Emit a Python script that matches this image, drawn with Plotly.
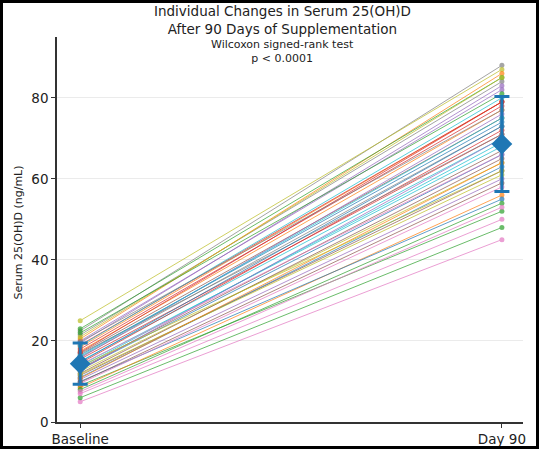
import plotly.graph_objects as go

timepoints = ["Baseline", "Day 90"]

baseline = [13.0, 18.5, 9.0, 15.5, 20.0, 11.5, 5.0, 22.5, 25.0, 14.0,
            16.5, 8.5, 6.0, 19.0, 10.5, 17.0, 7.0, 21.5, 12.5, 15.0,
            10.0, 20.5, 23.0, 14.5, 19.5, 12.0, 9.5, 16.0, 21.0, 13.5,
            11.0, 17.5, 8.0, 18.0, 15.8, 13.2, 7.5, 16.8, 11.8, 18.8,
            14.8, 10.8, 22.0, 17.2, 12.8, 9.8, 14.2, 19.8, 13.8, 16.2]

day90 = [66, 79, 52, 71, 82, 62, 45, 88, 87, 68,
         74, 56, 48, 79, 60, 75, 50, 84, 64, 70,
         55, 86, 85, 72, 83, 65, 58, 73, 85, 69,
         63, 77, 54, 78, 76, 67, 53, 71, 61, 80,
         73, 64, 81, 79, 70, 59, 66, 77, 62, 75]

group_mean = [14.4, 68.6]
group_sd = [5.1, 11.7]

title_text = "Individual Changes in Serum 25(OH)D<br>After 90 Days of Supplementation"
subtitle_text = "Wilcoxon signed-rank test<br>p < 0.0001"
y_label = "Serum 25(OH)D (ng/mL)"

tab10 = ["#1f77b4", "#ff7f0e", "#2ca02c", "#d62728", "#9467bd",
         "#8c564b", "#e377c2", "#7f7f7f", "#bcbd22", "#17becf"]

fig = go.Figure()
for i, (b, d) in enumerate(zip(baseline, day90)):
    c = tab10[i % 10]
    fig.add_trace(go.Scatter(
        x=timepoints, y=[b, d], mode="lines+markers",
        line=dict(color=c, width=1), marker=dict(color=c, size=5),
        opacity=0.7, showlegend=False, hoverinfo="skip"))

fig.add_trace(go.Scatter(
    x=timepoints, y=group_mean, mode="markers",
    marker=dict(symbol="diamond", size=16, color="#1f77b4"),
    error_y=dict(type="data", array=group_sd, visible=True,
                 color="#1f77b4", thickness=3, width=7.5),
    showlegend=False))

W, H = 539, 449
ml, mr, mt, mb = 57, 16, 37, 27
pw, ph = W - ml - mr, H - mt - mb


def py(p):
    """pixel row from top -> paper y"""
    return 1 + (mt - p) / ph


def px(p):
    """pixel column from left -> paper x"""
    return (p - ml) / pw


ann = [
    dict(text=title_text, xref="paper", yref="paper", x=px(282), y=py(20.5),
         xanchor="center", yanchor="middle", showarrow=False, borderpad=0,
         font=dict(size=13.5, color="#222222")),
    dict(text=subtitle_text, xref="paper", yref="paper", x=px(282.5), y=py(51.5),
         xanchor="center", yanchor="middle", showarrow=False, borderpad=0,
         font=dict(size=11, color="#222222")),
    dict(text=y_label, xref="paper", yref="paper", x=px(18.5), y=py(233),
         xanchor="center", yanchor="middle", textangle=-90, showarrow=False,
         font=dict(size=11, color="#222222")),
]

fig.update_layout(
    width=W, height=H,
    margin=dict(l=ml, r=mr, t=mt, b=mb, autoexpand=False),
    paper_bgcolor="white", plot_bgcolor="white",
    font=dict(family="DejaVu Sans", color="#222222"),
    xaxis=dict(type="category", range=[-0.055, 1.05], showgrid=False,
               showline=True, linecolor="#333333", linewidth=1.5,
               ticks="outside", ticklen=4, tickcolor="#333333",
               tickfont=dict(size=13.5), zeroline=False),
    yaxis=dict(range=[0, 95], tickvals=[0, 20, 40, 60, 80],
               showgrid=True, gridcolor="#ebebeb", gridwidth=1,
               showline=True, linecolor="#333333", linewidth=1.5,
               ticks="outside", ticklen=4, tickcolor="#333333",
               tickfont=dict(size=13.5), zeroline=False),
    annotations=ann,
    shapes=[dict(type="rect", xref="paper", yref="paper",
                 x0=px(1.5), x1=px(W - 1.5),
                 y0=py(H - 1.5), y1=py(1.5),
                 line=dict(color="black", width=3), layer="above")],
)

fig.write_html("out.html", config={"displayModeBar": False},
               post_script="document.body.style.margin='0';document.body.style.padding='0';")
